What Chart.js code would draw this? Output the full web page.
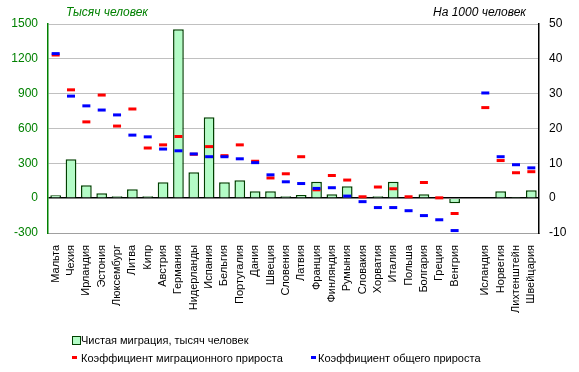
<!DOCTYPE html>
<html>
<head>
<meta charset="utf-8">
<script src="https://cdn.jsdelivr.net/npm/chart.js@4"></script>
<style>
    body { margin: 0; background: #fff; font-family: "Liberation Sans", Arial, sans-serif; }
    #wrap { position: relative; width: 579px; height: 372px; }
    .lbl { position: absolute; font-size: 12px; white-space: nowrap; line-height: 14px; }
    .leg { font-size: 11px; }
    .axTitle { font-style: italic; top: 5px; }
    .box { position: absolute; width: 7px; height: 7px; border: 1px solid #004000; background: #b3fcc6; }
    .dash { position: absolute; width: 5px; height: 3px; }
</style>
</head>
<body>
<div id="wrap">
    <canvas id="myChart" width="579" height="372"></canvas>
    <div class="lbl axTitle" style="left:66px; color:#008000;">Тысяч человек</div>
    <div class="lbl axTitle" style="right:53px;">На 1000 человек</div>

    <div class="box" style="left:72px; top:336px;"></div>
    <div class="lbl leg" style="left:81px; top:333px;">Чистая миграция, тысяч человек</div>
    <div class="dash" style="left:72px; top:356px; background:#ff0000;"></div>
    <div class="lbl leg" style="left:81px; top:351px;">Коэффициент миграционного прироста</div>
    <div class="dash" style="left:311px; top:356px; background:#0000ff;"></div>
    <div class="lbl leg" style="left:318px; top:351px;">Коэффициент общего прироста</div>
</div>
<script>
// '' is the gap between EU countries and the rest
const countries = ['Мальта', 'Чехия', 'Ирландия', 'Эстония', 'Люксембург', 'Литва', 'Кипр', 'Австрия',
    'Германия', 'Нидерланды', 'Испания', 'Бельгия', 'Португалия', 'Дания', 'Швеция', 'Словения',
    'Латвия', 'Франция', 'Финляндия', 'Румыния', 'Словакия', 'Хорватия', 'Италия', 'Польша',
    'Болгария', 'Греция', 'Венгрия', '', 'Исландия', 'Норвегия', 'Лихтенштейн', 'Швейцария'];

// net migration, thousand people
const netMigration = [25, 335, 111, 42, 16, 77, 16, 137,
    1455, 223, 697, 137, 154, 59, 59, 16,
    28, 142, 33, 102, 12, 16, 142, 8,
    33, -10, -44, null, 3, 59, 1, 68];

// per 1000 people
const migrationRate = [41.1, 31.1, 21.9, 29.6, 20.7, 25.6, 14.4, 15.3,
    17.7, 12.6, 14.8, 12.2, 15.3, 10.6, 5.8, 7.0,
    11.9, 2.4, 6.5, 5.2, 0.4, 3.2, 2.7, 0.4,
    4.5, 0.1, -4.4, null, 26.0, 10.8, 7.3, 7.6];

const totalRate = [41.5, 29.3, 26.5, 25.3, 23.9, 18.1, 17.6, 14.1,
    13.6, 12.7, 11.9, 11.9, 11.3, 10.2, 6.7, 4.7,
    4.2, 2.8, 3.0, 0.6, -1.0, -2.7, -2.7, -3.6,
    -5.0, -6.2, -9.3, null, 30.2, 11.9, 9.6, 8.7];

const leftTicks = [-300, 0, 300, 600, 900, 1200, 1500];
const rightTicks = [-10, 0, 10, 20, 30, 40, 50];

const tickFont = { family: '"Liberation Sans", Arial, sans-serif', size: 12 };
const catFont = { family: '"Liberation Sans", Arial, sans-serif', size: 11 };

document.addEventListener('DOMContentLoaded', () => {
    const ctx = document.getElementById('myChart').getContext('2d');
    new Chart(ctx, {
        type: 'bar',
        data: {
            labels: countries,
            datasets: [
                {
                    label: 'Коэффициент общего прироста',
                    type: 'line',
                    data: totalRate,
                    yAxisID: 'y1',
                    showLine: false,
                    pointStyle: 'line',
                    pointRadius: 4,
                    pointBorderWidth: 3,
                    pointBorderColor: '#0000ff',
                    order: 1
                },
                {
                    label: 'Коэффициент миграционного прироста',
                    type: 'line',
                    data: migrationRate,
                    yAxisID: 'y1',
                    showLine: false,
                    pointStyle: 'line',
                    pointRadius: 4,
                    pointBorderWidth: 3,
                    pointBorderColor: '#ff0000',
                    order: 2
                },
                {
                    label: 'Чистая миграция, тысяч человек',
                    data: netMigration,
                    yAxisID: 'y',
                    backgroundColor: '#b3fcc6',
                    borderColor: '#004000',
                    borderWidth: 1.5,
                    categoryPercentage: 1,
                    barPercentage: 0.7,
                    order: 3
                }
            ]
        },
        options: {
            responsive: false,
            animation: false,
            devicePixelRatio: 1,
            layout: { padding: { top: 24, left: 0, right: 0, bottom: 0 } },
            plugins: {
                legend: { display: false },
                tooltip: { enabled: false }
            },
            scales: {
                x: {
                    grid: { display: false },
                    border: { color: '#a0a0a0', width: 1 },
                    ticks: {
                        color: '#000',
                        font: catFont,
                        autoSkip: false,
                        minRotation: 90,
                        maxRotation: 90,
                        padding: 4
                    },
                    afterFit: scale => { scale.height = 139; }
                },
                y: {
                    position: 'left',
                    min: leftTicks[0],
                    max: leftTicks[leftTicks.length - 1],
                    afterBuildTicks: scale => { scale.ticks = leftTicks.map(v => ({ value: v })); },
                    grid: {
                        drawTicks: false,
                        color: c => c.tick.value === 0 ? '#000' : '#c0c0c0',
                        lineWidth: c => c.tick.value === 0 ? 1.5 : 1
                    },
                    border: { color: '#008000', width: 1.5 },
                    ticks: { color: '#008000', font: tickFont, padding: 10, callback: v => String(v) },
                    afterFit: scale => { scale.width = 48; }
                },
                y1: {
                    position: 'right',
                    min: rightTicks[0],
                    max: rightTicks[rightTicks.length - 1],
                    afterBuildTicks: scale => { scale.ticks = rightTicks.map(v => ({ value: v })); },
                    grid: { display: false, drawTicks: false },
                    border: { color: '#000', width: 1.5 },
                    ticks: { color: '#000', font: tickFont, padding: 10, callback: v => String(v) },
                    afterFit: scale => { scale.width = 40; }
                }
            }
        }
    });
});
</script>
</body>
</html>
